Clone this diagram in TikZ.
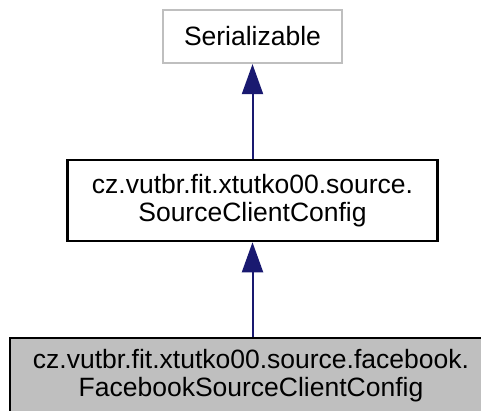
\documentclass[tikz,border=0pt]{standalone}
\usepackage{fontspec}
\setmainfont{Liberation Sans}
\usetikzlibrary{arrows.meta}
\definecolor{edgeblue}{HTML}{191970}
\definecolor{boxgray}{HTML}{BFBFBF}
\begin{document}
\begin{tikzpicture}[x=1pt,y=-1pt,
  cls/.style={draw=black, line width=2.5pt, fill=white, inner sep=0pt, align=center,
    font=\fontsize{26.5}{28}\selectfont},
  ext/.style={cls, draw=boxgray, line width=2.2pt},
  cur/.style={cls, fill=boxgray},
  inh/.style={draw=edgeblue, line width=2pt, -{Triangle[length=30pt,width=21pt]}}]
\useasboundingbox (0,0) rectangle (481,410);
\begin{scope}
\clip (0,0) rectangle (481,410);
\node[ext, minimum width=179pt, minimum height=53pt] (ser) at (252.5,36.5) {Serializable};
\node[cls, minimum width=370pt, minimum height=81pt] (scc) at (252.5,200.5) {cz.vutbr.fit.xtutko00.source.\\SourceClientConfig};
\node[cur, minimum width=482pt, minimum height=76pt] (fsc) at (251,376) {cz.vutbr.fit.xtutko00.source.facebook.\\FacebookSourceClientConfig};
\draw[inh] (scc.north -| ser.south) -- (ser.south);
\draw[inh] (fsc.north -| ser.south) -- (scc.south -| ser.south);
\end{scope}
\end{tikzpicture}
\end{document}
